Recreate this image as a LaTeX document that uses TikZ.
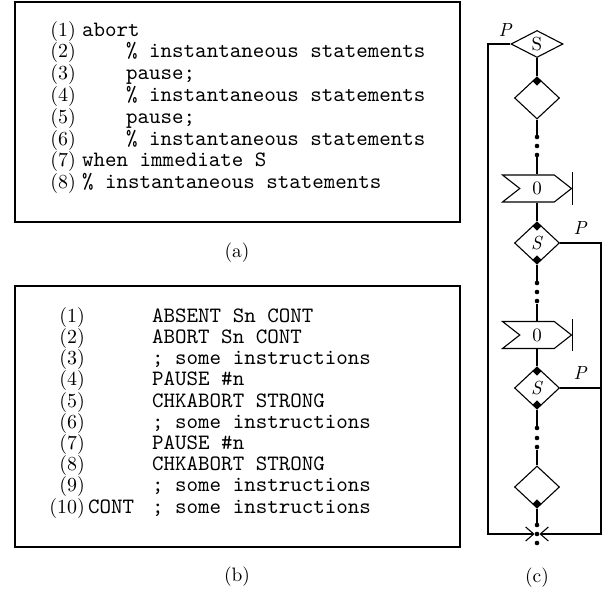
\documentclass[tikz,border=0pt]{standalone}
\usepackage{fontspec}
\setmainfont{lmroman10-regular.otf}[ItalicFont=lmroman10-italic.otf,BoldFont=lmroman10-bold.otf]
\setmonofont{lmmono10-regular.otf}
\usetikzlibrary{shapes.geometric,shapes.symbols,arrows.meta}
\begin{document}
\begin{tikzpicture}[x=1bp,y=-1bp,
  codebox/.style={draw,line width=1.8bp},
  num/.style={font=\fontsize{20}{20}\selectfont,inner sep=0pt,anchor=mid east},
  code/.style={font=\ttfamily\fontsize{22}{22}\selectfont,inner sep=0pt,anchor=mid west},
  caption/.style={font=\fontsize{19.5}{19.5}\selectfont,inner sep=0pt},
  flow/.style={line width=1.1bp},
  lbl/.style={font=\fontsize{19}{19}\selectfont\itshape,inner sep=0pt},
  test/.style={diamond,draw,flow,inner sep=0pt,minimum width=45bp,minimum height=42bp,
    font=\fontsize{19}{19}\selectfont},
  flagbox/.style={signal,signal from=west,signal to=east,signal pointer angle=76,draw,flow,
    inner sep=0pt,minimum width=69bp,minimum height=27bp,font=\fontsize{19}{19}\selectfont},
  pin/.style={diamond,fill,inner sep=0pt,minimum width=9bp,minimum height=9bp},
  dotpt/.style={circle,fill,inner sep=0pt,minimum size=4.6bp},
  barb/.style={-{Straight Barb[length=8bp,width=14bp]}}
]
\useasboundingbox (0,0) rectangle (605,592);

% ---------- (a) Esterel source ----------
\draw[codebox] (15,2) rectangle (460,222);
\foreach \i/\y in {1/34,2/55.8,3/77.6,4/99.4,5/121.2,6/143,7/164.8,8/186.6}
  \node[num] (na\i) at (76,\y) {(\i)};
\node[code] (ca1) at (82,34)    {abort};
\node[code] (ca2) at (126,55.8) {\% instantaneous statements};
\node[code] (ca3) at (126,77.6) {pause;};
\node[code] (ca4) at (126,99.4) {\% instantaneous statements};
\node[code] (ca5) at (126,121.2) {pause;};
\node[code] (ca6) at (126,143)  {\% instantaneous statements};
\node[code] (ca7) at (82,164.8) {when immediate S};
\node[code] (ca8) at (82,186.6) {\% instantaneous statements};
\node[caption] (capa) at (237,253) {(a)};

% ---------- (b) generated instructions ----------
\draw[codebox] (15,286) rectangle (460,547);
\foreach \i/\y in {1/320,2/341.2,3/362.4,4/383.7,5/404.9,6/426.1,7/447.3,8/468.6,9/489.8,10/511}
  \node[num] (nb\i) at (85,\y) {(\i)};
\node[code] (cb1) at (152,320)   {ABSENT Sn CONT};
\node[code] (cb2) at (152,341.2) {ABORT Sn CONT};
\node[code] (cb3) at (152,362.4) {; some instructions};
\node[code] (cb4) at (152,383.7) {PAUSE \#n};
\node[code] (cb5) at (152,404.9) {CHKABORT STRONG};
\node[code] (cb6) at (152,426.1) {; some instructions};
\node[code] (cb7) at (152,447.3) {PAUSE \#n};
\node[code] (cb8) at (152,468.6) {CHKABORT STRONG};
\node[code] (cb9) at (152,489.8) {; some instructions};
\node[code] (lab10) at (88,511)  {CONT};
\node[code] (cb10) at (152,511)  {; some instructions};
\node[caption] (capb) at (237,577) {(b)};

% ---------- (c) flowchart ----------
\node[test,minimum width=52bp,minimum height=27bp] (d0) at (537,44) {S};
\node[test] (d1) at (537,98) {};
\node[dotpt] (v1a) at (537,137) {};
\node[dotpt] (v1b) at (537,146) {};
\node[dotpt] (v1c) at (537,155) {};
\node[flagbox] (f1) at (537,188.5) {0};
\node[test] (dA) at (537,243) {\textit{S}};
\node[dotpt] (v2a) at (537,283) {};
\node[dotpt] (v2b) at (537,292) {};
\node[dotpt] (v2c) at (537,301) {};
\node[flagbox] (f2) at (537,335) {0};
\node[test] (dB) at (537,388) {\textit{S}};
\node[dotpt] (v3a) at (537,428) {};
\node[dotpt] (v3b) at (537,438) {};
\node[dotpt] (v3c) at (537,447) {};
\node[test] (dC) at (537,487) {};
\node[dotpt] (v4a) at (537,525) {};
\node[dotpt] (v4b) at (537,534) {};
\node[dotpt] (v4c) at (537,543) {};

% test-branch markers on the diamonds
\node[pin,anchor=north] (m1) at (d1.north) {};
\node[pin,anchor=north] (m2) at (dA.north) {};
\node[pin,anchor=south] (m3) at (dA.south) {};
\node[pin,anchor=north] (m4) at (dB.north) {};
\node[pin,anchor=south] (m5) at (dB.south) {};
\node[pin,anchor=south] (m6) at (dC.south) {};

% vertical flow
\draw[flow] (d0.south) -- (d1.north);
\draw[flow] (d1.south) -- (v1a);
\draw[flow] (v1c) -- (f1.north);
\draw[flow] (f1.south) -- (dA.north);
\draw[flow] (dA.south) -- (v2a);
\draw[flow] (v2c) -- (f2.north);
\draw[flow] (f2.south) -- (dB.north);
\draw[flow] (dB.south) -- (v3a);
\draw[flow] (v3c) -- (dC.north);
\draw[flow] (dC.south) -- (v4a);

% delay bars on the pause symbols
\draw[flow] ([yshift=-16bp]f1.east) -- ([yshift=16bp]f1.east);
\draw[flow] ([yshift=-16bp]f2.east) -- ([yshift=16bp]f2.east);

% abort branches
\coordinate (lt) at (488,44);
\coordinate (lb) at (488,534);
\coordinate (rt) at (601,243);
\coordinate (rb) at (601,534);
\draw[flow,barb] (d0.west) -- (lt) -- (lb) -- (v4b.west);
\draw[flow,barb] (dA.east) -- (rt) -- (rb) -- (v4b.east);
\draw[flow] (dB.east) -- (dB.east -| rt);

\node[lbl] (p0) at (505,30) {P};
\node[lbl] (pA) at (580,228) {P};
\node[lbl] (pB) at (580,373) {P};
\node[caption] (capc) at (537,578) {(c)};
\end{tikzpicture}
\end{document}
